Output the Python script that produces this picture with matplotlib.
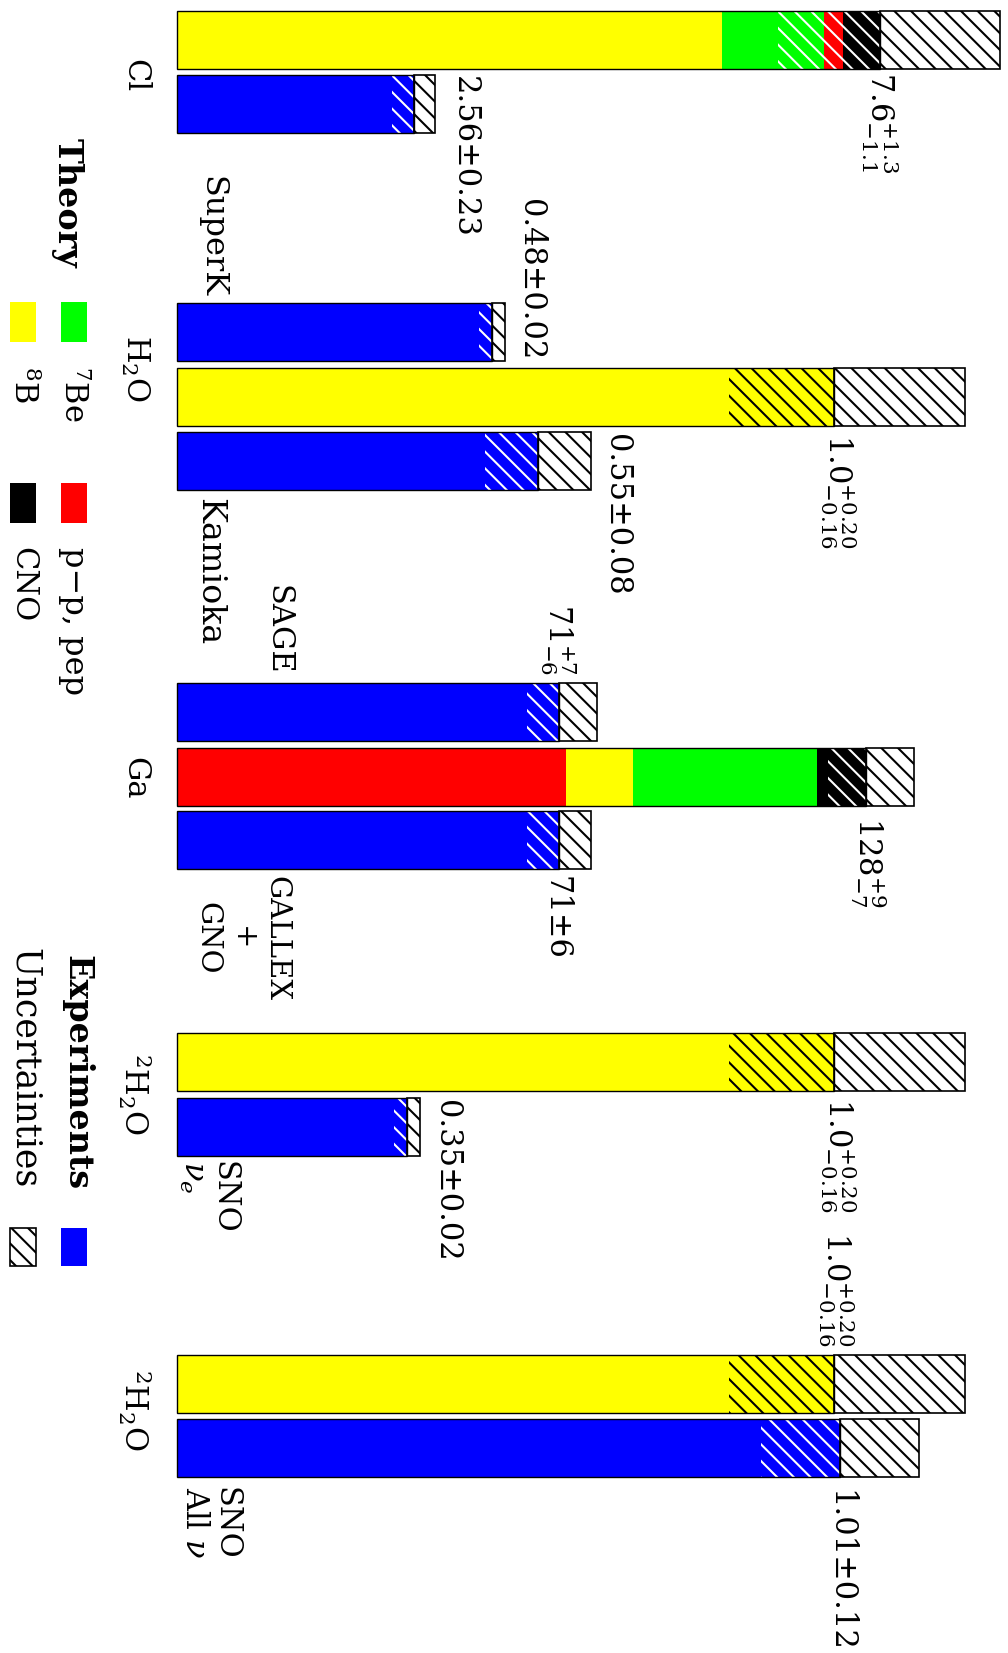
import matplotlib
matplotlib.use("Agg")
import matplotlib.pyplot as plt
from matplotlib.patches import Rectangle

plt.rcParams['font.family'] = ['DejaVu Serif']
plt.rcParams['mathtext.fontset'] = 'dejavuserif'
plt.rcParams['hatch.linewidth'] = 1.5

YELLOW = '#ffff00'
GREEN = '#00ff00'
RED = '#ff0000'
BLACK = '#000000'
BLUE = '#0000ff'
SOURCE_COLOURS = {'8B': YELLOW, '7Be': GREEN, 'pp': RED, 'CNO': BLACK}

# ---- data ----
# chlorine (SNU)
cl_sources = ['8B', '7Be', 'pp', 'CNO']
cl_theory = [5.9, 1.1, 0.2, 0.4]
cl_theory_err = (1.1, 1.3)          # (minus, plus)
cl_exp = 2.56
cl_exp_err = (0.23, 0.23)

# water Cherenkov (ratio to BP2000)
h2o_sources = ['8B']
h2o_theory = [1.0]
h2o_theory_err = (0.16, 0.20)
superk = 0.48
superk_err = (0.02, 0.02)
kamioka = 0.55
kamioka_err = (0.08, 0.08)

# gallium (SNU)
ga_sources = ['pp', '8B', '7Be', 'CNO']
ga_theory = [72.4, 12.4, 34.2, 9.0]
ga_theory_err = (7, 9)
sage = 71
sage_err = (6, 7)
gallex = 71
gallex_err = (6, 6)

# heavy water (ratio to BP2000)
sno_sources = ['8B']
sno_theory = [1.0]
sno_theory_err = (0.16, 0.20)
sno_e = 0.35
sno_e_err = (0.02, 0.02)
sno_all = 1.01
sno_all_err = (0.12, 0.12)

# ---- layout (pixels) ----
W, H = 1008, 1653
X0 = 176.7          # where every bar starts
BAR_H = 58
HATCH = '\\\\'


def group_axes(theory_len, theory_total):
    """Transparent axes over the whole figure, x in the group's own units."""
    ppu = theory_len / theory_total
    ax = fig.add_axes([0, 0, 1, 1])
    ax.set_xlim(-X0 / ppu, (W - X0) / ppu)
    ax.set_ylim(H, 0)
    ax.axis('off')
    return ax


def draw_bar(ax, y, parts, colours, err):
    total = sum(parts)
    lo, hi = total - err[0], total + err[1]
    left = 0
    for v, c in zip(parts, colours):
        ax.barh(y, v, left=left, height=BAR_H, color=c, linewidth=0)
        # lower uncertainty, hatched over the coloured part
        a, b = max(left, lo), min(left + v, total)
        if b > a:
            hc = 'black' if c == YELLOW else 'white'
            ax.barh(y, b - a, left=a, height=BAR_H, facecolor='none',
                    edgecolor=hc, hatch=HATCH, linewidth=0)
        left += v
    ax.barh(y, hi - total, left=total, height=BAR_H, facecolor='white',
            edgecolor='black', hatch=HATCH, linewidth=1.2)
    ax.barh(y, total, height=BAR_H, facecolor='none', edgecolor='black', linewidth=1.0)


fig = plt.figure(figsize=(W / 100, H / 100), dpi=100)
base = fig.add_axes([0, 0, 1, 1])
base.set_xlim(0, W)
base.set_ylim(H, 0)
base.axis('off')

# chlorine
ax = group_axes(703, sum(cl_theory))
draw_bar(ax, 40, cl_theory, [SOURCE_COLOURS[s] for s in cl_sources], cl_theory_err)
draw_bar(ax, 104, [cl_exp], [BLUE], cl_exp_err)

# water
ax = group_axes(657, sum(h2o_theory))
draw_bar(ax, 332, [superk], [BLUE], superk_err)
draw_bar(ax, 397, h2o_theory, [SOURCE_COLOURS[s] for s in h2o_sources], h2o_theory_err)
draw_bar(ax, 461, [kamioka], [BLUE], kamioka_err)

# gallium
ax = group_axes(689, sum(ga_theory))
draw_bar(ax, 712, [sage], [BLUE], sage_err)
draw_bar(ax, 776.5, ga_theory, [SOURCE_COLOURS[s] for s in ga_sources], ga_theory_err)
draw_bar(ax, 840, [gallex], [BLUE], gallex_err)

# heavy water
ax = group_axes(657, sum(sno_theory))
draw_bar(ax, 1062, sno_theory, [SOURCE_COLOURS[s] for s in sno_sources], sno_theory_err)
draw_bar(ax, 1126.5, [sno_e], [BLUE], sno_e_err)
draw_bar(ax, 1384, sno_theory, [SOURCE_COLOURS[s] for s in sno_sources], sno_theory_err)
draw_bar(ax, 1448, [sno_all], [BLUE], sno_all_err)

FS = 22


def label(x, y, s, va='center', **kw):
    base.text(x, y, s, rotation=270, ha='center', va=va, fontsize=kw.pop('fontsize', FS), **kw)


# target labels
label(135, 76, 'Cl')
label(135, 368, 'H$_2$O')
label(135, 778, 'Ga')
label(135, 1094, '$^2$H$_2$O')
label(135, 1410, '$^2$H$_2$O')

# experiment names
label(212, 297, 'SuperK', va='bottom', fontsize=23)
label(209, 498, 'Kamioka', va='top', fontsize=24)
label(278, 675, 'SAGE', va='bottom')
label(242, 876, 'GALLEX\n+\nGNO', va='top', linespacing=1.3, multialignment='center', fontsize=21)
label(208, 1161, 'SNO\n$\\nu_e$', va='top', linespacing=1.0, multialignment='left')
label(210, 1487, 'SNO\nAll $\\nu$', va='top', linespacing=1.0, multialignment='left')

# values
label(464, 76, '2.56\u00b10.23', va='top')
label(880, 72, '$7.6^{+1.3}_{-1.1}$', va='top')
label(531, 360, '0.48\u00b10.02', va='bottom')
label(838, 434, '$1.0^{+0.20}_{-0.16}$', va='top')
label(617, 434, '0.55\u00b10.08', va='top')
label(558, 675, '$71^{+7}_{-6}$', va='bottom')
label(868, 817, '$128^{+9}_{-7}$', va='top')
label(556, 876, '71\u00b16', va='top')
label(838, 1098, '$1.0^{+0.20}_{-0.16}$', va='top')
label(446, 1100, '0.35\u00b10.02', va='top')
label(836, 1347, '$1.0^{+0.20}_{-0.16}$', va='bottom')
label(840, 1490, '1.01\u00b10.12', va='top')

# legend
label(67, 268, 'Theory', va='bottom', fontweight='bold', fontsize=24)
for (x, y, c) in [(10, 302, YELLOW), (60.7, 302, GREEN), (10, 483, BLACK), (60.7, 483, RED)]:
    base.add_patch(Rectangle((x, y), 26, 40, facecolor=c, edgecolor='none'))
label(23, 366, '$^8$B', va='top')
label(73, 366, '$^7$Be', va='top')
label(23, 547, 'CNO', va='top')
label(73, 547, 'p\u2212p, pep', va='top', fontsize=23)

label(77, 1190, 'Experiments', va='bottom', fontweight='bold', fontsize=24)
label(25, 1188, 'Uncertainties', va='bottom', fontsize=25)
base.add_patch(Rectangle((60.7, 1228), 26, 38, facecolor=BLUE, edgecolor='none'))
base.add_patch(Rectangle((10, 1228), 26, 38, facecolor='white', edgecolor='black',
                         hatch=HATCH, linewidth=1.2))

fig.savefig('out.png', dpi=100)
